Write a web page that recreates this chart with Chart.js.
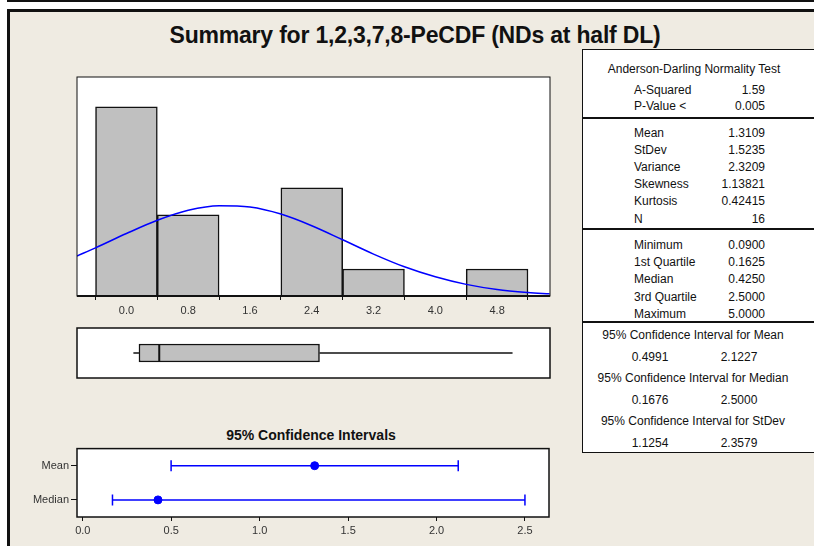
<!DOCTYPE html>
<html>
<head>
<meta charset="utf-8">
<script src="https://cdn.jsdelivr.net/npm/chart.js@4.4.1/dist/chart.umd.min.js"></script>
<style>
  body { margin: 0; width: 814px; height: 546px; overflow: hidden; background: #fff; position: relative;
         font-family: "Liberation Sans", Arial, sans-serif; color: #111; }
  .abs { position: absolute; }
  .txt { position: absolute; white-space: nowrap; font-size: 12px; line-height: 14px; }
  canvas { position: absolute; }
</style>
</head>
<body>
<div class="abs" style="left:7px;top:0;width:820px;height:2px;background:#111"></div>
<div class="abs" style="left:7px;top:9px;width:820px;height:560px;border:3px solid #111;background:#efebe2"></div>
<div class="abs" style="left:0;top:21px;width:830px;text-align:center;font-weight:bold;font-size:23px;line-height:28px;letter-spacing:-0.2px">Summary for 1,2,3,7,8-PeCDF (NDs at half DL)</div>
<div class="abs" style="left:186px;top:427px;width:250px;text-align:center;font-weight:bold;font-size:14px;line-height:17px">95% Confidence Intervals</div>

<canvas id="hist" width="490" height="252" style="left:70px;top:70px"></canvas>
<canvas id="box" width="477" height="54" style="left:75px;top:326px"></canvas>
<canvas id="ci" width="550" height="106" style="left:10px;top:440px"></canvas>
<div id="table" class="abs" style="left:582px;top:49px;width:231px;height:402px;background:#fff;border:1.5px solid #111"></div>

<script>
// histogram
const binCenters = [0.0, 0.8, 1.6, 2.4, 3.2, 4.0, 4.8];
const binCounts = [7, 3, 0, 4, 1, 0, 1];
const histTicks = [0.0, 0.8, 1.6, 2.4, 3.2, 4.0, 4.8];
// fitted normal curve
const curveX = [-0.64, -0.4, 0, 0.4, 0.8, 1.2, 1.6, 2.0, 2.4, 2.8, 3.2, 3.6, 4.0, 4.4, 4.8, 5.2, 5.48];
const curveY = [1.48, 1.78, 2.31, 2.80, 3.17, 3.34, 3.29, 3.03, 2.60, 2.08, 1.55, 1.08, 0.71, 0.43, 0.24, 0.13, 0.08];

// boxplot: min, q1, median, q3, max
const boxStats = [0.09, 0.1625, 0.425, 2.5, 5.0];

// confidence intervals
const ciLabels = ["Mean", "Median"];
const ciLow = [0.4991, 0.1676];
const ciHigh = [2.1227, 2.5];
const ciEst = [1.3109, 0.425];
const ciTicks = [0.0, 0.5, 1.0, 1.5, 2.0, 2.5];

// table
const adTitle = "Anderson-Darling Normality Test";
const adLabels = ["A-Squared", "P-Value <"];
const adValues = ["1.59", "0.005"];
const momentLabels = ["Mean", "StDev", "Variance", "Skewness", "Kurtosis", "N"];
const momentValues = ["1.3109", "1.5235", "2.3209", "1.13821", "0.42415", "16"];
const quantileLabels = ["Minimum", "1st Quartile", "Median", "3rd Quartile", "Maximum"];
const quantileValues = ["0.0900", "0.1625", "0.4250", "2.5000", "5.0000"];
const intervalTitles = ["95% Confidence Interval for Mean", "95% Confidence Interval for Median", "95% Confidence Interval for StDev"];
const intervalValues = [["0.4991", "2.1227"], ["0.1676", "2.5000"], ["1.1254", "2.3579"]];

Chart.defaults.font.family = '"Liberation Sans", Arial, sans-serif';
Chart.defaults.font.size = 11;
Chart.defaults.color = "#333";
Chart.defaults.animation = false;
Chart.defaults.responsive = false;
Chart.defaults.plugins.legend.display = false;
Chart.defaults.plugins.tooltip.enabled = false;

const framePlugin = {
  id: "frame",
  beforeDraw(chart) {
    const { ctx, chartArea: a } = chart;
    ctx.save();
    ctx.fillStyle = "#fff";
    ctx.fillRect(a.left, a.top, a.width, a.height);
    ctx.restore();
  },
  afterDraw(chart, args, opts) {
    const { ctx, chartArea: a } = chart;
    ctx.save();
    ctx.strokeStyle = "#111";
    ctx.lineWidth = opts.width || 1.5;
    ctx.strokeRect(a.left, a.top, a.width, a.height);
    if (opts.bottom) {
      ctx.lineWidth = opts.bottom;
      ctx.beginPath();
      ctx.moveTo(a.left, a.bottom);
      ctx.lineTo(a.right, a.bottom);
      ctx.stroke();
    }
    ctx.restore();
  }
};

const tickGrid = len => ({ drawOnChartArea: false, drawTicks: true, tickLength: len, color: "#111", lineWidth: 1 });

new Chart(document.getElementById("hist"), {
  type: "bar",
  data: {
    datasets: [
      {
        type: "line",
        data: curveX.map((x, i) => ({ x: x, y: curveY[i] })),
        borderColor: "#0000ff",
        borderWidth: 1.5,
        pointRadius: 0,
        cubicInterpolationMode: "monotone",
        order: 0
      },
      {
        data: binCenters.map((c, i) => ({ x: c, y: binCounts[i] })),
        backgroundColor: "#c0c0c0",
        borderColor: "#111",
        borderWidth: 1.5,
        barPercentage: 1,
        categoryPercentage: 1,
        order: 1
      }
    ]
  },
  options: {
    layout: { autoPadding: false, padding: { left: 7, top: 7, right: 10, bottom: 0 } },
    plugins: { frame: { width: 1, bottom: 2 } },
    scales: {
      x: {
        type: "linear",
        min: -0.64,
        max: 5.485,
        offset: false,
        afterFit: s => { s.height = 26; },
        afterBuildTicks: s => { s.ticks = histTicks.map(v => ({ value: v })); },
        ticks: { callback: v => v.toFixed(1), padding: 4, maxRotation: 0 },
        grid: tickGrid(4),
        border: { display: false }
      },
      y: { min: 0, max: 8.1, display: false }
    }
  },
  plugins: [framePlugin]
});

new Chart(document.getElementById("box"), {
  type: "bar",
  data: {
    labels: ["box"],
    datasets: [
      {
        type: "line",
        data: [{ x: boxStats[2], y: "box" }],
        showLine: false,
        pointStyle: "line",
        rotation: 90,
        pointRadius: 9,
        pointBorderWidth: 2,
        borderColor: "#111",
        order: 0
      },
      {
        type: "line",
        data: [{ x: boxStats[0], y: "box" }, { x: boxStats[1], y: "box" }],
        borderColor: "#111",
        borderWidth: 1.5,
        pointRadius: 0,
        order: 1
      },
      {
        type: "line",
        data: [{ x: boxStats[3], y: "box" }, { x: boxStats[4], y: "box" }],
        borderColor: "#111",
        borderWidth: 1.5,
        pointRadius: 0,
        order: 1
      },
      {
        data: [[boxStats[1], boxStats[3]]],
        backgroundColor: "#c0c0c0",
        borderColor: "#111",
        borderWidth: 1.5,
        borderSkipped: false,
        barThickness: 18,
        order: 2
      }
    ]
  },
  options: {
    indexAxis: "y",
    layout: { autoPadding: false, padding: 2 },
    plugins: { frame: { width: 1.5 } },
    scales: {
      x: { type: "linear", min: -0.64, max: 5.485, display: false },
      y: { type: "category", labels: ["box"], display: false }
    }
  },
  plugins: [framePlugin]
});

new Chart(document.getElementById("ci"), {
  type: "line",
  data: {
    datasets: [
      ...ciLabels.map((lab, i) => ({
        data: [{ x: ciLow[i], y: lab }, { x: ciHigh[i], y: lab }],
        borderColor: "#0000ff",
        borderWidth: 1.5,
        pointStyle: "line",
        rotation: 90,
        pointRadius: 5.5,
        pointBorderWidth: 1.5,
        pointBorderColor: "#0000ff"
      })),
      {
        data: ciLabels.map((lab, i) => ({ x: ciEst[i], y: lab })),
        showLine: false,
        pointStyle: "circle",
        pointRadius: 4,
        pointBackgroundColor: "#0000ff",
        pointBorderColor: "#0000ff"
      }
    ]
  },
  options: {
    layout: { autoPadding: false, padding: { left: 0, top: 7, right: 11, bottom: 0 } },
    plugins: { frame: { width: 1.5 } },
    scales: {
      x: {
        type: "linear",
        min: -0.033,
        max: 2.636,
        afterFit: s => { s.height = 29; },
        afterBuildTicks: s => { s.ticks = ciTicks.map(v => ({ value: v })); },
        ticks: { callback: v => v.toFixed(1), padding: 3, maxRotation: 0 },
        grid: tickGrid(4),
        border: { display: false }
      },
      y: {
        type: "category",
        labels: ciLabels,
        offset: true,
        afterFit: s => { s.width = 67; },
        ticks: { padding: 2 },
        grid: Object.assign(tickGrid(6), { offset: false }),
        border: { display: false }
      }
    }
  },
  plugins: [framePlugin]
});

// summary table
const table = document.getElementById("table");
const T_LEFT = 582, T_TOP = 49;
function put(text, x, y, align) {
  const d = document.createElement("div");
  d.className = "txt";
  d.textContent = text;
  d.style.left = (x - T_LEFT) + "px";
  d.style.top = (y - T_TOP - 7) + "px";
  if (align === "center") d.style.transform = "translateX(-50%)";
  if (align === "right") d.style.transform = "translateX(-100%)";
  table.appendChild(d);
}
function rule(y) {
  const d = document.createElement("div");
  d.className = "abs";
  d.style.cssText = "left:0;width:100%;height:2px;background:#111;top:" + (y - T_TOP - 1) + "px";
  table.appendChild(d);
}
const labelX = 633, valueX = 764, midX = 693;
put(adTitle, midX, 67.5, "center");
adLabels.forEach((l, i) => { put(l, labelX, 88.5 + i * 16.5, "left"); put(adValues[i], valueX, 88.5 + i * 16.5, "right"); });
rule(116.5);
momentLabels.forEach((l, i) => { put(l, labelX, 131.5 + i * 17.2, "left"); put(momentValues[i], valueX, 131.5 + i * 17.2, "right"); });
rule(228);
quantileLabels.forEach((l, i) => { put(l, labelX, 244 + i * 17.2, "left"); put(quantileValues[i], valueX, 244 + i * 17.2, "right"); });
rule(320.7);
intervalTitles.forEach((t, i) => {
  const y = 334 + i * 43.2;
  put(t, 692, y, "center");
  put(intervalValues[i][0], 649, y + 21.5, "center");
  put(intervalValues[i][1], 738, y + 21.5, "center");
});
</script>
</body>
</html>
